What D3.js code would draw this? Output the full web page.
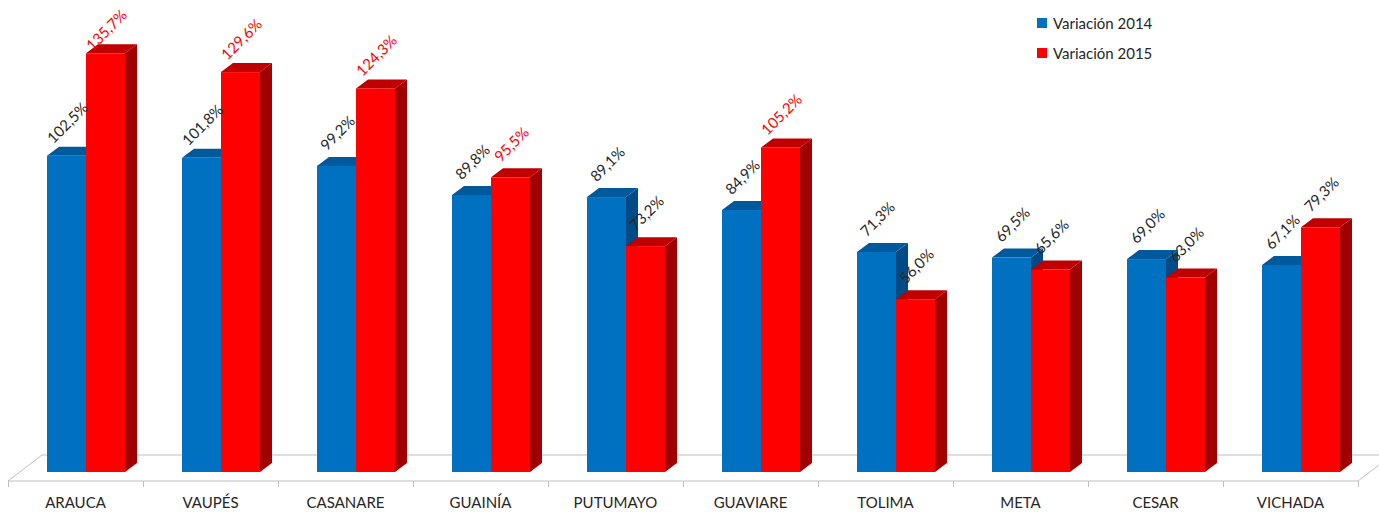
<!DOCTYPE html>
<html>
<head>
<meta charset="utf-8">
<script src="https://cdn.jsdelivr.net/npm/d3@7/dist/d3.min.js"></script>
<style>
  html, body { margin: 0; padding: 0; background: #fff; }
  svg { display: block; }
  text { font-family: Lato, "Open Sans", sans-serif; }
</style>
</head>
<body>
<svg id="chart" width="1379" height="512"></svg>
<script>
const categories = ["ARAUCA", "VAUPÉS", "CASANARE", "GUAINÍA", "PUTUMAYO", "GUAVIARE", "TOLIMA", "META", "CESAR", "VICHADA"];
const seriesNames = ["Variación 2014", "Variación 2015"];
const values2014 = [102.5, 101.8, 99.2, 89.8, 89.1, 84.9, 71.3, 69.5, 69.0, 67.1];
const values2015 = [135.7, 129.6, 124.3, 95.5, 73.2, 105.2, 56.0, 65.6, 63.0, 79.3];
const labelRed2015 = [true, true, true, true, false, true, false, false, false, false];

const W = 1379, H = 512;
const svg = d3.select("#chart");

const floorFront = 481, floorBack = 455, baseY = 472;
const depthX = 12, depthY = 9;

const x = d3.scaleBand().domain(categories).range([8, 1358]).padding(0);
const xSub = d3.scaleBand().domain(seriesNames).range([39, 117]).padding(0);
const y = d3.scaleLinear().domain([0, 140]).range([baseY, 40]);

const colors = {
  "Variación 2014": { front: "#0070C0", top: "#00599B", side: "#004B85" },
  "Variación 2015": { front: "#FF0000", top: "#C00000", side: "#A00000" }
};

// floor
const floor = svg.append("g").attr("stroke", "#BFBFBF").attr("stroke-width", 1).attr("fill", "none");
floor.append("path").attr("d", `M${x.range()[0]},${floorFront} L${x.range()[1]},${floorFront}`);
floor.append("path").attr("d", `M${x.range()[0]},${floorFront} L${x.range()[0] + 34},${floorBack} L${W + 5},${floorBack}`);
floor.append("path").attr("d", `M${x.range()[1]},${floorFront} L${x.range()[1] + 34},${floorBack}`);
// ticks
const tickPos = categories.map(c => x(c)).concat([x.range()[1]]);
floor.selectAll("line.tick").data(tickPos).enter().append("line")
  .attr("x1", d => d + 0.5).attr("x2", d => d + 0.5)
  .attr("y1", floorFront).attr("y2", floorFront + 6);

// bars
const data = [];
categories.forEach((c, i) => {
  data.push({ cat: c, s: seriesNames[0], v: values2014[i], red: false });
  data.push({ cat: c, s: seriesNames[1], v: values2015[i], red: labelRed2015[i] });
});

const bars = svg.append("g");
data.forEach(d => {
  const x0 = x(d.cat) + xSub(d.s);
  const w = xSub.bandwidth();
  const yt = y(d.v);
  const col = colors[d.s];
  const g = bars.append("g");
  g.append("path").attr("fill", col.side)
    .attr("d", `M${x0 + w},${yt} L${x0 + w + depthX},${yt - depthY} L${x0 + w + depthX},${baseY - depthY} L${x0 + w},${baseY} Z`);
  g.append("path").attr("fill", col.top)
    .attr("d", `M${x0},${yt} L${x0 + depthX},${yt - depthY} L${x0 + w + depthX},${yt - depthY} L${x0 + w},${yt} Z`);
  g.append("rect").attr("fill", col.front)
    .attr("x", x0).attr("y", yt).attr("width", w).attr("height", baseY - yt);
});

// labels
const fmt = v => v.toFixed(1).replace(".", ",") + "%";
const labels = svg.append("g");
data.forEach(d => {
  const cx = x(d.cat) + xSub(d.s) + xSub.bandwidth() / 2 + 1;
  const cy = Math.max(y(d.v) - 33, 30);
  labels.append("text")
    .attr("transform", `translate(${cx},${cy}) rotate(-45)`)
    .attr("text-anchor", "middle")
    .attr("dy", "0.36em")
    .attr("font-size", 15)
    .attr("fill", d.red ? "#FF0000" : "#262626")
    .text(fmt(d.v));
});

// category labels
svg.append("g").selectAll("text").data(categories).enter().append("text")
  .attr("x", d => x(d) + x.bandwidth() / 2)
  .attr("y", 508)
  .attr("text-anchor", "middle")
  .attr("font-size", 15)
  .attr("fill", "#262626")
  .text(d => d);

// legend
const legend = svg.append("g");
seriesNames.forEach((s, i) => {
  const ly = 18 + i * 30;
  legend.append("rect").attr("x", 1037).attr("y", ly).attr("width", 10).attr("height", 10)
    .attr("fill", colors[s].front);
  legend.append("text").attr("x", 1053).attr("y", ly + 10.5)
    .attr("font-size", 15).attr("fill", "#262626").text(s);
});
</script>
</body>
</html>
